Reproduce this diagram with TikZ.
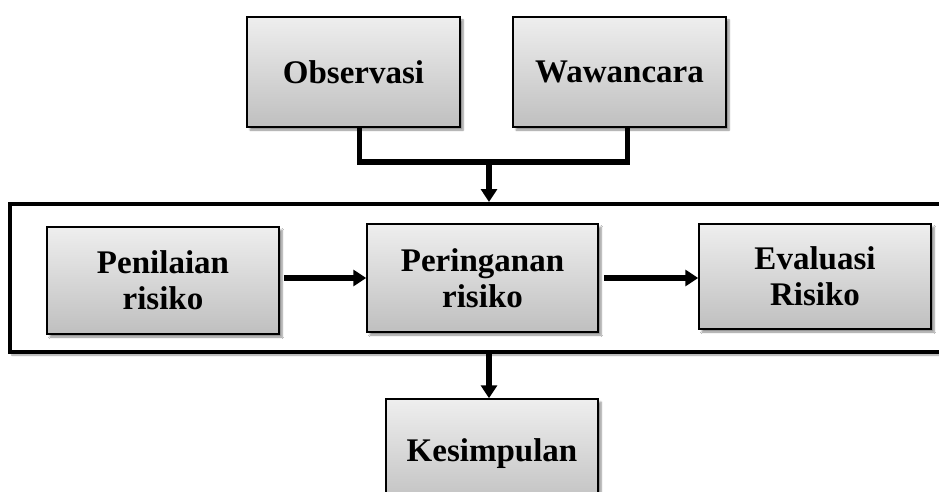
\documentclass[tikz,border=0pt]{standalone}
\usepackage{fontspec}
\setmainfont{Liberation Serif}
\usetikzlibrary{arrows.meta,shadows.blur}
\tikzset{
  box/.style={draw=black, line width=1.5pt, top color=gray!13, bottom color=gray!50,
    align=center, inner sep=0pt, font=\bfseries\fontsize{33}{36}\selectfont,
    blur shadow={shadow xshift=3pt, shadow yshift=-3pt, shadow blur steps=6, shadow opacity=45}},
  frame/.style={draw=black, fill=white, line width=4pt, inner sep=0pt,
    blur shadow={shadow xshift=2pt, shadow yshift=-3pt, shadow blur steps=6, shadow opacity=40}},
  conn/.style={line width=5.5pt},
  arr/.style={line width=5.5pt, -{Triangle[length=13pt,width=16pt]}}
}
\begin{document}
\begin{tikzpicture}[x=1pt,y=-1pt]
\useasboundingbox (0,0) rectangle (939,492);
\clip (0,0) rectangle (939,492);
\node[frame, minimum width=960pt, minimum height=148pt] (frame) at (490,278) {};
\node[box, minimum width=213pt, minimum height=110pt] (obs) at (353.5,72) {Observasi};
\node[box, minimum width=213pt, minimum height=110pt] (waw) at (619.5,72) {Wawancara};
\node[box, minimum width=232pt, minimum height=107pt] (pen) at (163,280.5) {Penilaian\\risiko};
\node[box, minimum width=231pt, minimum height=108pt] (per) at (482.5,278) {Peringanan\\risiko};
\node[box, minimum width=232pt, minimum height=105pt] (eva) at (815,276.5) {Evaluasi\\Risiko};
\node[box, minimum width=212pt, minimum height=110pt] (kes) at (492,454) {Kesimpulan};
\coordinate (merge) at (489,162);
\draw[conn, line join=miter] ([xshift=6pt]obs.south) |- (merge) -| ([xshift=8pt]waw.south);
\draw[arr] ([yshift=-1pt]merge) -- (merge |- frame.north);
\draw[arr] ([xshift=4pt]pen.east |- per.west) -- (per.west);
\draw[arr] ([xshift=5pt]per.east) -- (eva.west |- per.east);
\draw[arr] ([xshift=-3pt]kes.north |- frame.south) -- ([xshift=-3pt]kes.north);
\end{tikzpicture}
\end{document}
